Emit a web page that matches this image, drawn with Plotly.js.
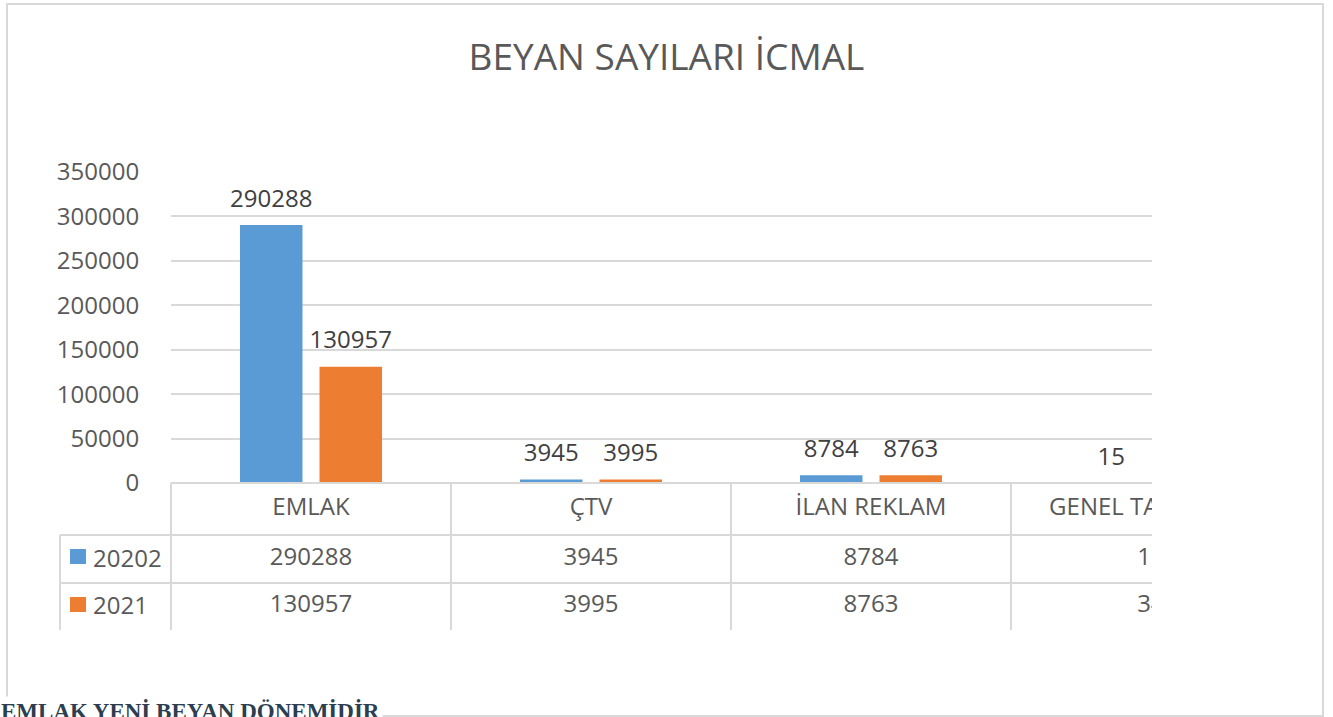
<!DOCTYPE html>
<html>
<head>
<meta charset="utf-8">
<script src="https://cdn.plot.ly/plotly-3.0.1.min.js"></script>
<style>html,body{margin:0;padding:0;background:#fff;overflow:hidden}#chart{width:1333px;height:717px}</style>
</head>
<body>
<div id="chart"></div>
<script>
const chartTitle = 'BEYAN SAYILARI İCMAL';
const footerText = 'EMLAK YENİ BEYAN DÖNEMİDİR';
const categories = ['EMLAK', 'ÇTV', 'İLAN REKLAM', 'GENEL TAHAKKUK'];
const seriesNames = ['20202', '2021'];
const values2020 = [290288, 3945, 8784, 15];
const values2021 = [130957, 3995, 8763, 34];
const yTickValues = [0, 50000, 100000, 150000, 200000, 250000, 300000, 350000];
const seriesColors = ['#5b9bd5', '#ed7d31'];

const W = 1333, H = 717;
const px = x => x / W;
const py = y => 1 - y / H;
const FONT = 'Open Sans, Noto Sans, sans-serif';
const TXT = '#595959';
const GRID = '#d9d9d9';

// plot area in pixels
const L = 171, R = 1152, T = 172, B = 483;
const TB = 630; // table bottom
const catPx = 280;
const xRange = [-0.5, -0.5 + (R - L) / catPx];
const BARGAP = 0.432;

const series = [values2020, values2021];
const traces = [];
series.forEach((vals, i) => {
  traces.push({
    type: 'bar', x: categories, y: vals, name: seriesNames[i],
    marker: {color: seriesColors[i], line: {width: 0}},
    xaxis: 'x', yaxis: 'y', hoverinfo: 'skip', showlegend: false
  });
});
series.forEach((vals, i) => {
  traces.push({
    type: 'scatter', mode: 'markers+text', x: categories, y: vals,
    text: vals.map(String), textposition: 'top center',
    textfont: {family: FONT, size: 24, color: '#404040'},
    marker: {size: 18, opacity: 0}, cliponaxis: true,
    alignmentgroup: 'labels', offsetgroup: 'lab' + i,
    xaxis: 'x', yaxis: 'y', hoverinfo: 'skip', showlegend: false
  });
});
// data table rows (y in pixel units from table bottom)
const rowY = [TB - 509, TB - 559, TB - 606];
const tableRows = [categories, values2020.map(String), values2021.map(String)];
tableRows.forEach((row, r) => {
  traces.push({
    type: 'scatter', mode: 'text', x: categories, y: categories.map(() => rowY[r]),
    text: row, textposition: 'middle center',
    textfont: {family: FONT, size: 24, color: TXT}, cliponaxis: true,
    alignmentgroup: 'table', offsetgroup: 'table',
    xaxis: 'x2', yaxis: 'y2', hoverinfo: 'skip', showlegend: false
  });
});

const shapes = [];
// outer border
shapes.push({type: 'rect', xref: 'paper', yref: 'paper', x0: px(7), x1: px(1323), y0: py(716), y1: py(4),
  line: {color: GRID, width: 2}, layer: 'below'});
// table horizontal lines
shapes.push({type: 'line', xref: 'paper', yref: 'paper', x0: px(L), x1: px(R), y0: py(B), y1: py(B), line: {color: GRID, width: 2}});
[535, 583].forEach(y => shapes.push({type: 'line', xref: 'paper', yref: 'paper', x0: px(60), x1: px(R), y0: py(y), y1: py(y), line: {color: GRID, width: 2}}));
shapes.push({type: 'line', xref: 'paper', yref: 'paper', x0: px(60), x1: px(60), y0: py(535), y1: py(TB), line: {color: GRID, width: 2}});
shapes.push({type: 'line', xref: 'paper', yref: 'paper', x0: px(L), x1: px(L), y0: py(B), y1: py(TB), line: {color: GRID, width: 2}});
// category column separators
for (let i = 1; i < categories.length; i++) {
  shapes.push({type: 'line', xref: 'x2', yref: 'y2', x0: i - 0.5, x1: i - 0.5, y0: 0, y1: TB - B, line: {color: GRID, width: 2}});
}
// legend keys
[[549, 564], [597, 612]].forEach((yy, i) => shapes.push({type: 'rect', xref: 'paper', yref: 'paper',
  x0: px(70), x1: px(86), y0: py(yy[1]), y1: py(yy[0]), fillcolor: seriesColors[i], line: {width: 0}}));

const annotations = [];
seriesNames.forEach((n, i) => annotations.push({xref: 'paper', yref: 'paper', x: px(91), y: py(TB - rowY[i + 1] - 2),
  xanchor: 'left', yanchor: 'middle', showarrow: false, text: n, font: {family: FONT, size: 24, color: TXT}}));
annotations.push({xref: 'paper', yref: 'paper', x: px(-2), y: py(696), xanchor: 'left', yanchor: 'top', showarrow: false,
  text: '<b>' + footerText + '</b>', font: {family: 'Liberation Serif, DejaVu Serif, serif', size: 23, color: '#2c3e50'},
  bgcolor: '#ffffff', borderpad: 2});

const layout = {
  width: W, height: H,
  margin: {l: 0, r: 0, t: 0, b: 0},
  paper_bgcolor: '#ffffff', plot_bgcolor: 'rgba(0,0,0,0)',
  title: {text: chartTitle, x: 0.5, xanchor: 'center', y: py(57), yanchor: 'middle',
    font: {family: FONT, size: 37, color: TXT}},
  barmode: 'group', bargap: BARGAP, bargroupgap: 0.214,
  scattermode: 'group', scattergap: BARGAP,
  showlegend: false,
  xaxis: {domain: [px(L), px(R)], range: xRange, type: 'category', categoryarray: categories,
    showticklabels: false, showgrid: false, zeroline: false, showline: false, ticks: '', fixedrange: true},
  yaxis: {domain: [py(B), py(T)], range: [0, 350000], tickvals: yTickValues, ticktext: yTickValues.map(String),
    showgrid: true, gridcolor: GRID, gridwidth: 2, zeroline: false, showline: false,
    ticks: 'outside', ticklen: 26, tickcolor: 'rgba(0,0,0,0)',
    tickfont: {family: FONT, size: 24, color: TXT}, fixedrange: true},
  xaxis2: {domain: [px(L), px(R)], range: xRange, type: 'category', categoryarray: categories, anchor: 'y2',
    showticklabels: false, showgrid: false, zeroline: false, showline: false, ticks: '', fixedrange: true},
  yaxis2: {domain: [py(TB), py(B)], range: [0, TB - B], anchor: 'x2', visible: false, fixedrange: true},
  shapes: shapes, annotations: annotations
};
Plotly.newPlot('chart', traces, layout, {staticPlot: true, displayModeBar: false});
</script>
</body>
</html>
